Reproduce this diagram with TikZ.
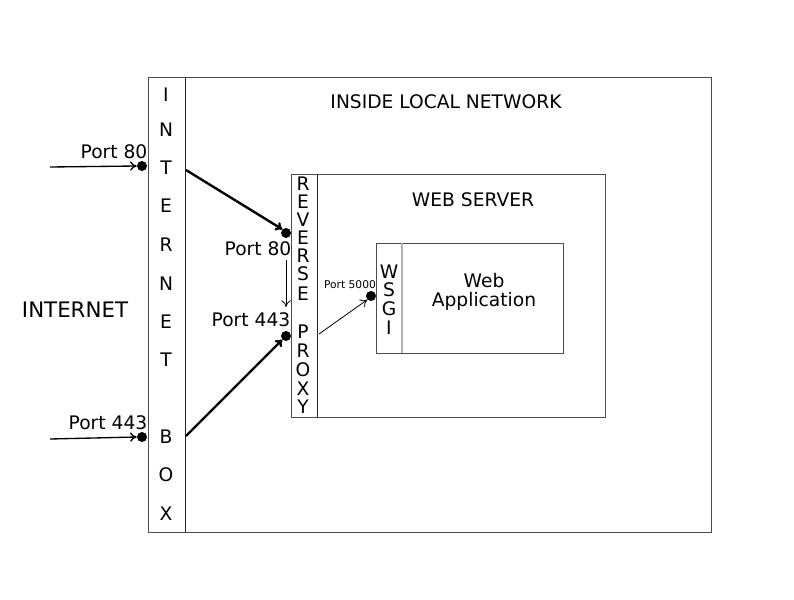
\documentclass[tikz,border=0pt]{standalone}
\usepackage{fontspec}
\setmainfont{DejaVu Sans}
\usetikzlibrary{arrows.meta}
\begin{document}
\begin{tikzpicture}[x=0.75pt,y=-0.75pt,
  box/.style={draw=black!70,line width=0.6pt},
  divider/.style={draw=black!85,line width=0.6pt},
  lightdiv/.style={draw=black!30,line width=1pt},
  port/.style={circle,fill=black,inner sep=0pt,minimum size=7.5pt},
  lbl/.style={font=\fontsize{14pt}{16pt}\selectfont,inner sep=0pt},
  thin/.style={line width=1pt,-{To[length=5pt,width=7pt]}},
  thick/.style={line width=1.8pt,-{To[length=5pt,width=7pt]}},
  thinner/.style={line width=0.6pt,-{To[length=5pt,width=7pt]}}]
\useasboundingbox (0,0) rectangle (794,600);
% outer box
\draw[box] (148,77) rectangle (711,532);
\draw[divider] (185,77) -- (185,532);
\foreach \l/\y in {I/95,N/130,T/168,E/206,R/245,N/284,E/322,T/360,B/437,O/475,X/514}
  \node[lbl] at (166,\y) {\l};
\node[lbl] (inside) at (446,102) {INSIDE LOCAL NETWORK};
\node[inner sep=0pt,font=\fontsize{16pt}{18pt}\selectfont] (internet) at (75,310) {INTERNET};
% web server box
\draw[box] (291,174) rectangle (605,417);
\draw[divider] (317,174) -- (317,417);
\foreach \l/\y in {R/184,E/202,V/220,E/238,R/256,S/274,E/294,P/332,R/351,O/370,X/389,Y/407}
  \node[lbl] at (303,\y) {\l};
\node[lbl] (ws) at (473,200) {WEB SERVER};
% web app box
\draw[box] (376,243) rectangle (563,353);
\draw[lightdiv] (402,243) -- (402,353);
\foreach \l/\y in {W/272,S/290,G/309,I/328}
  \node[lbl] at (389,\y) {\l};
\node[lbl,align=center] (app) at (484,292) {Web\\[-2pt]Application};
% ports
\node[port] (p80) at (142,166) {};
\node[port] (p443) at (142,437) {};
\node[port] (rp80) at (286,233) {};
\node[port] (rp443) at (286,336) {};
\node[port] (w5000) at (371,296) {};
\node[lbl] at (114,152) {Port 80};
\node[lbl] at (108,423) {Port 443};
\node[lbl] at (258,249) {Port 80};
\node[lbl] at (251,320) {Port 443};
\node[inner sep=0pt,font=\fontsize{8pt}{9pt}\selectfont] at (350,285) {Port 5000};
% connectors
\coordinate (in80) at (50,167);
\coordinate (in443) at (50,439);
\coordinate (t) at (186,170);
\coordinate (b) at (186,436);
\coordinate (rpa) at (286,260);
\coordinate (rpb) at (319,334);
\draw[thin] (in80) -- (p80.west);
\draw[thin] (in443) -- (p443.west);
\draw[thick] (t) -- (rp80.north west);
\draw[thick] (b) -- (rp443.south west);
\draw[thinner] (rpa) -- (286,307);
\draw[thinner] (rpb) -- (w5000.south west);
\end{tikzpicture}
\end{document}
